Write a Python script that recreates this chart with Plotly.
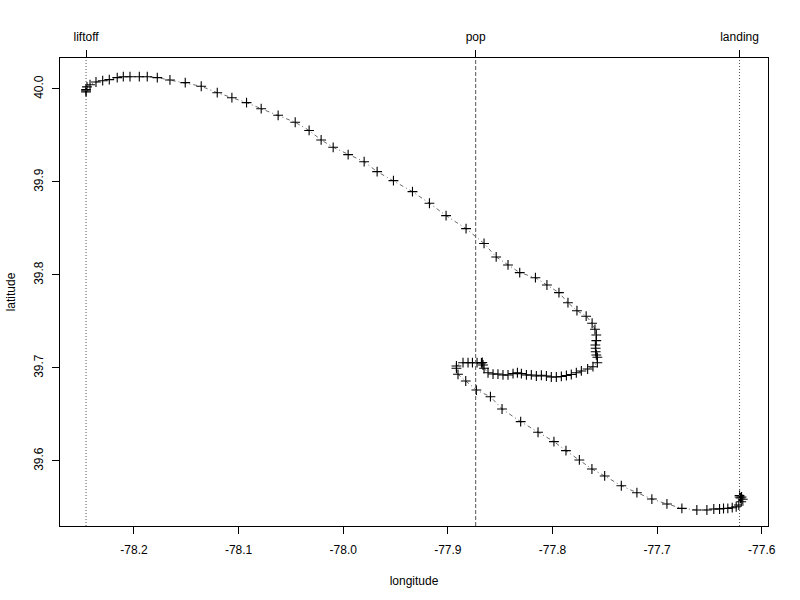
import plotly.graph_objects as go

longitude = [
    -78.2458, -78.2458, -78.2458, -78.2449, -78.2420, -78.2363, -78.2299, -78.2236,
    -78.2160, -78.2102, -78.2038, -78.1949, -78.1873, -78.1777, -78.1656, -78.1510,
    -78.1357, -78.1204, -78.1064, -78.0924, -78.0784, -78.0622, -78.0459, -78.0326,
    -78.0211, -78.0096, -77.9953, -77.9800, -77.9676, -77.9520, -77.9338, -77.9176,
    -77.9017, -77.8826, -77.8654, -77.8538, -77.8425, -77.8313, -77.8163, -77.8053,
    -77.7938, -77.7852, -77.7766, -77.7678, -77.7621, -77.7594, -77.7581, -77.7581,
    -77.7590, -77.7587, -77.7587, -77.7581, -77.7571, -77.7571, -77.7613, -77.7664,
    -77.7724, -77.7772, -77.7820, -77.7867, -77.7915, -77.7963, -77.8011, -77.8058,
    -77.8106, -77.8154, -77.8202, -77.8249, -77.8297, -77.8335, -77.8377, -77.8425,
    -77.8473, -77.8521, -77.8568, -77.8616, -77.8654, -77.8664, -77.8671, -77.8679,
    -77.8721, -77.8765, -77.8807, -77.8855, -77.8918, -77.8918, -77.8903, -77.8829,
    -77.8727, -77.8593, -77.8482, -77.8304, -77.8138, -77.7986, -77.7871, -77.7743,
    -77.7623, -77.7501, -77.7342, -77.7193, -77.7050, -77.6906, -77.6763, -77.6620,
    -77.6524, -77.6458, -77.6403, -77.6365, -77.6324, -77.6282, -77.6244, -77.6219,
    -77.6196, -77.6181, -77.6193, -77.6212, -77.6202, -77.6212,
]
latitude = [
    39.9968, 39.9980, 39.9995, 40.0022, 40.0046, 40.0075, 40.0089, 40.0100,
    40.0122, 40.0132, 40.0132, 40.0132, 40.0132, 40.0122, 40.0097, 40.0068,
    40.0029, 39.9960, 39.9906, 39.9853, 39.9788, 39.9717, 39.9642, 39.9554,
    39.9452, 39.9373, 39.9294, 39.9218, 39.9111, 39.9014, 39.8896, 39.8771,
    39.8638, 39.8498, 39.8339, 39.8194, 39.8108, 39.8025, 39.7971, 39.7892,
    39.7810, 39.7702, 39.7616, 39.7557, 39.7481, 39.7416, 39.7355, 39.7294,
    39.7247, 39.7212, 39.7175, 39.7140, 39.7115, 39.7057, 39.7014, 39.6989,
    39.6968, 39.6949, 39.6930, 39.6919, 39.6909, 39.6903, 39.6903, 39.6914,
    39.6922, 39.6914, 39.6925, 39.6925, 39.6939, 39.6949, 39.6939, 39.6925,
    39.6925, 39.6935, 39.6935, 39.6949, 39.6997, 39.7032, 39.7059, 39.7054,
    39.7057, 39.7057, 39.7057, 39.7057, 39.7022, 39.6997, 39.6932, 39.6860,
    39.6763, 39.6691, 39.6559, 39.6423, 39.6309, 39.6208, 39.6111, 39.6011,
    39.5914, 39.5839, 39.5734, 39.5659, 39.5591, 39.5538, 39.5491, 39.5473,
    39.5473, 39.5484, 39.5484, 39.5489, 39.5491, 39.5498, 39.5508, 39.5527,
    39.5562, 39.5588, 39.5613, 39.5629, 39.5602, 39.5613,
]

event_names = ["liftoff", "pop", "landing"]
event_lon = [-78.2458, -77.8734, -77.6212]
event_dash = ["1px,2px", "4px,2px", "1px,2px"]

x_ticks = [-78.2, -78.1, -78.0, -77.9, -77.8, -77.7, -77.6]
x_ticktext = ["-78.2", "-78.1", "-78.0", "-77.9", "-77.8", "-77.7", "-77.6"]
y_ticks = [39.6, 39.7, 39.8, 39.9, 40.0]
y_ticktext = ["39.6", "39.7", "39.8", "39.9", "40.0"]

x_range = [-78.2707, -77.594]
y_range = [39.5301, 40.0333]

FONT = "Liberation Sans Narrow, Liberation Sans, Arial, sans-serif"

fig = go.Figure()
fig.add_trace(go.Scatter(
    x=longitude, y=latitude, mode="lines+markers",
    line=dict(color="#444444", width=0.8, dash="1px,3px,4px,3px"),
    marker=dict(symbol="cross-thin", size=7, line=dict(width=1.1, color="black"), color="black"),
    showlegend=False, hoverinfo="skip",
))
# invisible trace to anchor the top axis
fig.add_trace(go.Scatter(x=event_lon, y=[40.0] * len(event_lon), xaxis="x2", mode="markers",
                         marker=dict(opacity=0), showlegend=False, hoverinfo="skip"))

for lon, d in zip(event_lon, event_dash):
    fig.add_shape(type="line", xref="x", yref="paper", x0=lon, x1=lon, y0=0, y1=1,
                  line=dict(color="#555555", width=1, dash=d))

fig.update_layout(
    width=800, height=600,
    paper_bgcolor="white", plot_bgcolor="white",
    margin=dict(l=60, r=32, t=58, b=74, autoexpand=False),
    font=dict(family=FONT, size=12, color="black"),
    xaxis=dict(range=x_range, tickvals=x_ticks, ticktext=x_ticktext, automargin=False,
               ticks="outside", ticklen=7, tickcolor="black", tickwidth=1,
               showgrid=False, zeroline=False, showline=True, linecolor="black",
               linewidth=1, mirror=True, ticklabelstandoff=6,
               title=dict(text="longitude", standoff=20, font=dict(size=12))),
    xaxis2=dict(range=x_range, overlaying="x", side="top", anchor="y", automargin=False,
                tickvals=event_lon, ticktext=event_names,
                ticks="outside", ticklen=7, tickcolor="black", tickwidth=1,
                showgrid=False, zeroline=False, showline=False, ticklabelstandoff=4),
    yaxis=dict(range=y_range, tickvals=y_ticks, ticktext=y_ticktext, automargin=False,
               ticks="outside", ticklen=7, tickcolor="black", tickwidth=1,
               tickangle=-90,
               showgrid=False, zeroline=False, showline=True, linecolor="black",
               linewidth=1, mirror=True, ticklabelstandoff=4,
               title=dict(text="latitude", standoff=14, font=dict(size=12))),
)

fig.write_html("out.html", config={"displayModeBar": False},
               post_script="document.body.style.margin='0px';")
